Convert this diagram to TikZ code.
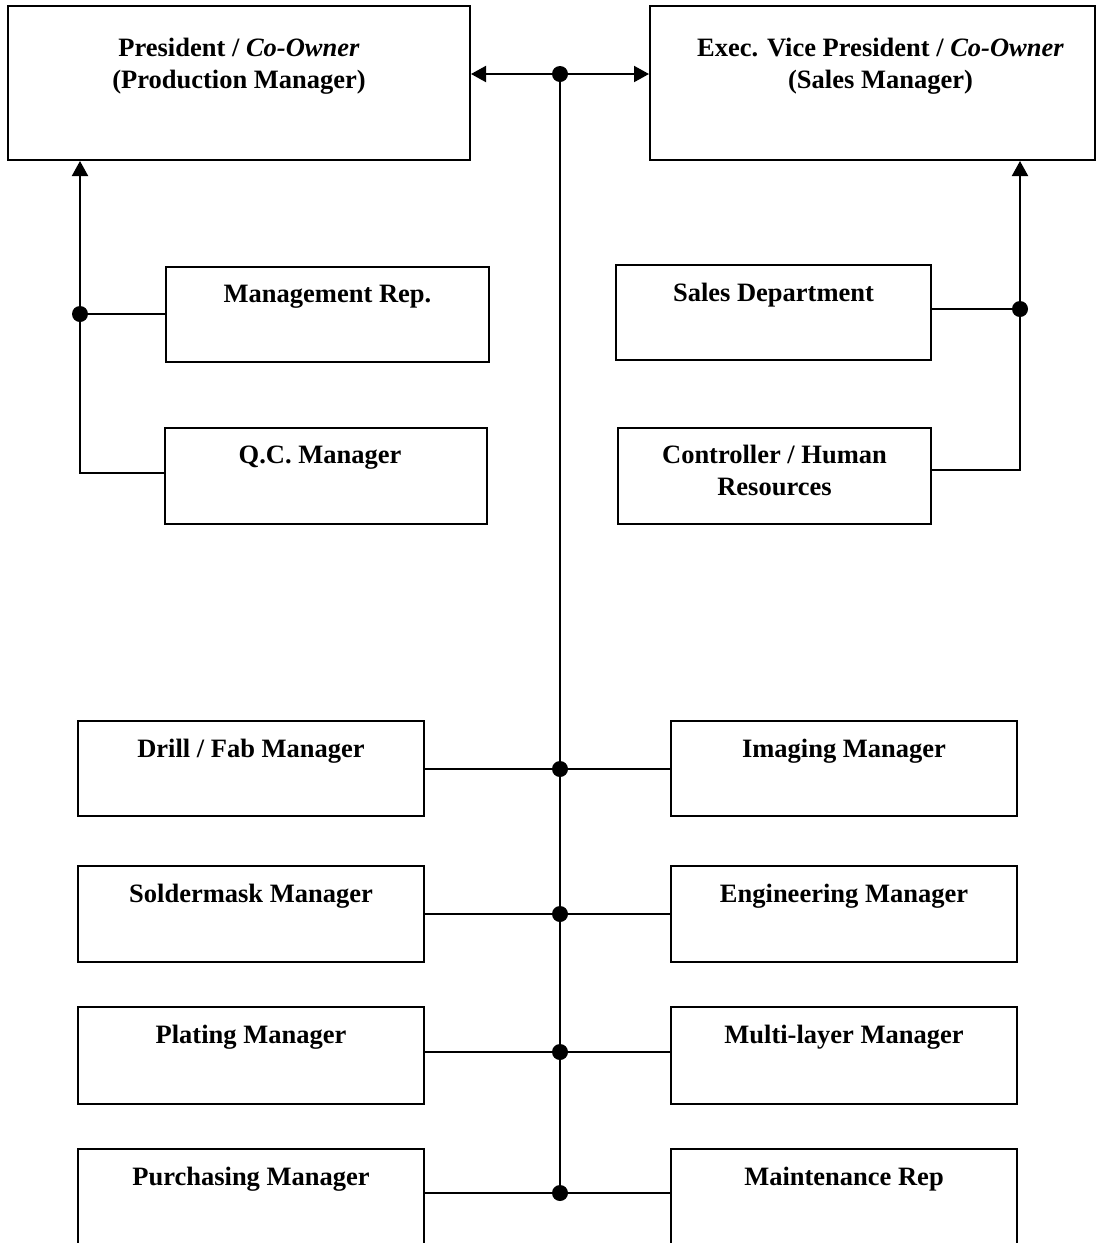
\documentclass[tikz,border=0pt]{standalone}
\usepackage{fontspec}
\setmainfont{Liberation Serif}
\usetikzlibrary{arrows.meta,fit,calc}
\begin{document}
\begin{tikzpicture}[x=1pt,y=-1pt,
  box/.style={draw,line width=2pt,inner sep=0pt,rectangle},
  txt/.style={font=\fontsize{26.5}{32}\selectfont\bfseries,align=center,inner sep=0pt,anchor=north},
  conn/.style={line width=2pt},
  arr/.style={conn,-{Triangle[length=15pt,width=16pt]}},
  dot/.style={circle,fill,inner sep=0pt,minimum size=16pt}]
\useasboundingbox (0,0) rectangle (1102,1243);
\clip (0,0) rectangle (1102,1243);
\fill[white] (0,0) rectangle (1102,1243);

% boxes
\node[box,fit={(8,6) (470,160)}] (pres) {};
\node[box,fit={(650,6) (1095,160)}] (evp) {};
\node[box,fit={(166,267) (489,362)}] (mgmt) {};
\node[box,fit={(165,428) (487,524)}] (qc) {};
\node[box,fit={(616,265) (931,360)}] (sales) {};
\node[box,fit={(618,428) (931,524)}] (ctrl) {};
\node[box,fit={(78,721) (424,816)}] (drill) {};
\node[box,fit={(671,721) (1017,816)}] (imaging) {};
\node[box,fit={(78,866) (424,962)}] (solder) {};
\node[box,fit={(671,866) (1017,962)}] (eng) {};
\node[box,fit={(78,1007) (424,1104)}] (plating) {};
\node[box,fit={(671,1007) (1017,1104)}] (multi) {};
\node[box,fit={(78,1149) (424,1300)}] (purch) {};
\node[box,fit={(671,1149) (1017,1300)}] (maint) {};

% texts
\node[txt] (presT) at ([yshift=-33pt]pres.north) {President / \textit{Co-Owner}\\(Production Manager)};
\node[txt] (evpT) at ([yshift=-33pt,xshift=8pt]evp.north) {Exec. Vice President / \textit{Co-Owner}\\(Sales Manager)};
\node[txt] (mgmtT) at ([yshift=-19pt]mgmt.north) {Management Rep.};
\node[txt] (qcT) at ([yshift=-19pt,xshift=-6pt]qc.north) {Q.C. Manager};
\node[txt] (salesT) at ([yshift=-19pt]sales.north) {Sales Department};
\node[txt] (ctrlT) at ([yshift=-18pt]ctrl.north) {Controller / Human\\Resources};
\node[txt] (drillT) at ([yshift=-19pt]drill.north) {Drill / Fab Manager};
\node[txt] (imagingT) at ([yshift=-19pt]imaging.north) {Imaging Manager};
\node[txt] (solderT) at ([yshift=-19pt]solder.north) {Soldermask Manager};
\node[txt] (engT) at ([yshift=-19pt]eng.north) {Engineering Manager};
\node[txt] (platingT) at ([yshift=-19pt]plating.north) {Plating Manager};
\node[txt] (multiT) at ([yshift=-19pt]multi.north) {Multi-layer Manager};
\node[txt] (purchT) at ([yshift=-19pt]purch.north) {Purchasing Manager};
\node[txt] (maintT) at ([yshift=-19pt]maint.north) {Maintenance Rep};

% junction dots
\node[dot] (d0) at (560,74) {};
\node[dot] (d1) at (560,769) {};
\node[dot] (d2) at (560,914) {};
\node[dot] (d3) at (560,1052) {};
\node[dot] (d4) at (560,1193) {};
\node[dot] (dl) at (80,314) {};
\node[dot] (dr) at (1020,309) {};
\coordinate (lq) at (80,473);
\coordinate (rc) at (1020,470);

% connectors
\draw[arr] (d0.center) -- (d0 -| pres.east);
\draw[arr] (d0.center) -- (d0 -| evp.west);
\draw[conn] (d0.center) -- (d4.center);
\draw[conn] (d1 -| drill.east) -- (d1.center) -- (d1 -| imaging.west);
\draw[conn] (d2 -| solder.east) -- (d2.center) -- (d2 -| eng.west);
\draw[conn] (d3 -| plating.east) -- (d3.center) -- (d3 -| multi.west);
\draw[conn] (d4 -| purch.east) -- (d4.center) -- (d4 -| maint.west);
\draw[arr] (lq -| qc.west) -- (lq) -- (lq |- pres.south);
\draw[conn] (dl.center) -- (dl -| mgmt.west);
\draw[arr] (rc -| ctrl.east) -- (rc) -- (rc |- evp.south);
\draw[conn] (dr.center) -- (dr -| sales.east);
\end{tikzpicture}
\end{document}
